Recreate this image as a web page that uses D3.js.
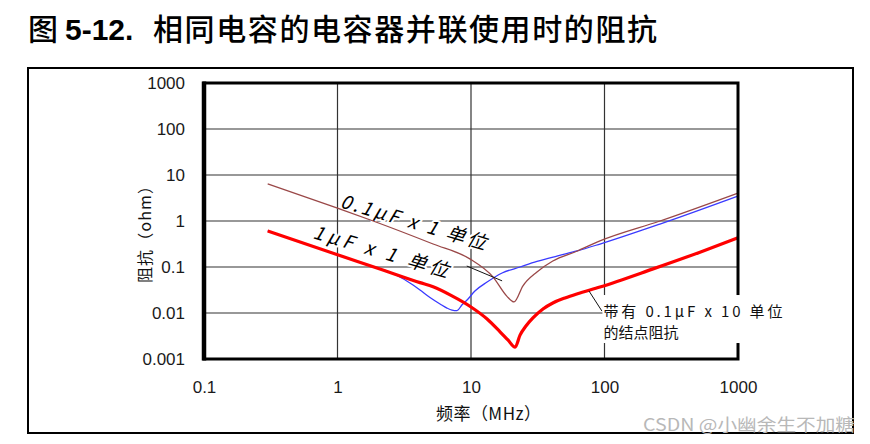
<!DOCTYPE html>
<html><head><meta charset="utf-8">
<script src="https://cdn.jsdelivr.net/npm/d3@7"></script>
<style>
body{margin:0;background:#fff;}
svg{display:block;}
</style></head>
<body>
<svg id="c" width="870" height="444"></svg>
<script>
// ---- data ----
const xTicks = [0.1, 1, 10, 100, 1000];
const xTickLabels = ["0.1", "1", "10", "100", "1000"];
const yTicks = [0.001, 0.01, 0.1, 1, 10, 100, 1000];
const yTickLabels = ["0.001", "0.01", "0.1", "1", "10", "100", "1000"];

// 1µF x 1 (red)
const redFreq = [0.3, 1.0, 2.0, 4.15, 5.2, 7.2, 10, 13.2, 16.5, 18.9, 21.4, 23.3, 25.8, 29.1, 34.6, 41, 50.6, 62, 92.5, 231, 519, 1000];
const redZ    = [0.61, 0.185, 0.094, 0.0457, 0.037, 0.0235, 0.0135, 0.0074, 0.0039, 0.0026, 0.0018, 0.0033, 0.0052, 0.0078, 0.0122, 0.0165, 0.0212, 0.026, 0.0367, 0.091, 0.21, 0.43];
// 0.1µF x 1 (brown)
const brownFreq = [0.3, 1.0, 1.85, 5.2, 9.8, 14.6, 18.6, 21, 24.5, 31.2, 41, 62, 92.5, 260, 1000];
const brownZ    = [6.4, 1.9, 1.0, 0.316, 0.15, 0.061, 0.023, 0.0174, 0.039, 0.078, 0.135, 0.22, 0.37, 1.0, 4.06];
// 0.1µF x 10 (blue)
const blueFreq = [0.3, 1.0, 2.0, 2.27, 2.74, 3.68, 4.15, 4.93, 5.86, 6.61, 7.21, 7.86, 8.57, 9.34, 10.7, 13.2, 17.1, 23.3, 31.2, 44, 62.2, 92.5, 260, 1000];
const blueZ    = [0.61, 0.185, 0.094, 0.084, 0.067, 0.0406, 0.0316, 0.0217, 0.0157, 0.0128, 0.0116, 0.0113, 0.0151, 0.0191, 0.030, 0.047, 0.074, 0.10, 0.132, 0.173, 0.223, 0.316, 0.86, 3.5];

const titleFig = "图";
const titleNum = "5-12.";
const titleText = "相同电容的电容器并联使用时的阻抗";
const xTitle = "频率（MHz）";
const yTitle = "阻抗（ohm）";
const label01 = "0.1µF x 1 单位";
const label1 = "1µF x 1 单位";
const noteLines = ["带有 0.1µF x 10 单位", "的结点阻抗"];
const watermark = "CSDN @小幽余生不加糖";

// annotation anchors in data units [freq, Z]
const label01At = [1.03, 2.01];
const label1At = [0.644, 0.427];
const leader1 = [[9.3, 0.105], [17.1, 0.05]];
const leader2 = [[76.6, 0.030], [95.7, 0.011]];
const noteAt = [96.5, 0.0105];

// ---- drawing ----
const svg = d3.select("#c");
const x = d3.scaleLog().domain([0.1, 1000]).range([204, 738]);
const y = d3.scaleLog().domain([0.001, 1000]).range([359, 83]);

// outer frame
svg.append("rect").attr("x", 28).attr("y", 68).attr("width", 825).attr("height", 365)
  .attr("fill", "none").attr("stroke", "#000").attr("stroke-width", 2);

// title
const t = svg.append("text").attr("y", 40).attr("font-size", 30).attr("fill", "#000");
t.append("tspan").attr("x", 28).attr("font-family", "'Noto Sans CJK SC'").attr("font-weight", 500).text(titleFig);
t.append("tspan").attr("x", 65).attr("font-family", "'Liberation Sans', Arial").attr("font-weight", "bold").text(titleNum);
svg.append("text").attr("x", 153).attr("y", 40).attr("font-size", 30)
  .attr("font-family", "'Noto Sans CJK SC'").attr("font-weight", 500)
  .attr("textLength", 504).attr("lengthAdjust", "spacing").text(titleText);

// gridlines
const g = svg.append("g");
g.selectAll("line.v").data(xTicks.slice(1, -1)).join("line")
  .attr("x1", d => x(d)).attr("x2", d => x(d)).attr("y1", y(1000)).attr("y2", y(0.001))
  .attr("stroke", "#333").attr("stroke-width", 1.2);
g.selectAll("line.h").data(yTicks.slice(1, -1)).join("line")
  .attr("y1", d => y(d)).attr("y2", d => y(d)).attr("x1", x(0.1)).attr("x2", x(1000))
  .attr("stroke", "#333").attr("stroke-width", 1.2);

// axes labels
const yAxis = d3.axisLeft(y).tickValues(yTicks).tickSize(0).tickPadding(19)
  .tickFormat((d, i) => yTickLabels[i]);
const ya = svg.append("g").attr("transform", `translate(${x(0.1)},0)`).call(yAxis);
ya.select(".domain").remove();
ya.selectAll("text").attr("font-size", 17).attr("font-family", "'Liberation Sans', Arial").attr("fill", "#1a1a1a");

const xAxis = d3.axisBottom(x).tickValues(xTicks).tickSize(0).tickPadding(22)
  .tickFormat((d, i) => xTickLabels[i]);
const xa = svg.append("g").attr("transform", `translate(0,${y(0.001)})`).call(xAxis);
xa.select(".domain").remove();
xa.selectAll("text").attr("font-size", 17).attr("font-family", "'Liberation Sans', Arial").attr("fill", "#1a1a1a");

// axis titles
svg.append("text").attr("x", 436).attr("y", 420).attr("font-size", 17)
  .attr("font-family", "'Noto Sans CJK SC'").attr("textLength", 105).attr("lengthAdjust", "spacing")
  .attr("fill", "#111").text(xTitle);
svg.append("text").attr("transform", "translate(151,283) rotate(-90)").attr("font-size", 16)
  .attr("font-family", "'Noto Sans CJK SC'").attr("textLength", 105).attr("lengthAdjust", "spacing")
  .attr("fill", "#111").text(yTitle);

// curve labels (white halo)
function curveLabel(txt, at, len) {
  svg.append("text")
    .attr("transform", `translate(${x(at[0])},${y(at[1])}) rotate(16.5)`)
    .attr("font-size", 19).attr("font-family", "'Noto Sans CJK JP'").attr("font-style", "italic")
    .attr("textLength", len).attr("lengthAdjust", "spacing")
    .attr("fill", "#000").attr("stroke", "#fff").attr("stroke-width", 4).attr("paint-order", "stroke")
    .attr("stroke-linejoin", "round")
    .text(txt);
}
curveLabel(label01, label01At, 151);
curveLabel(label1, label1At, 140);

// curves
const line = d3.line().x(d => x(d[0])).y(d => y(d[1])).curve(d3.curveMonotoneX);
const zip = (a, b) => a.map((v, i) => [v, b[i]]);
svg.append("path").datum(zip(blueFreq, blueZ)).attr("d", line)
  .attr("fill", "none").attr("stroke", "#3a3aff").attr("stroke-width", 1.3);
svg.append("path").datum(zip(brownFreq, brownZ)).attr("d", line)
  .attr("fill", "none").attr("stroke", "#9a4848").attr("stroke-width", 1.3);
svg.append("path").datum(zip(redFreq, redZ)).attr("d", line)
  .attr("fill", "none").attr("stroke", "#ff0000").attr("stroke-width", 3.2).attr("stroke-linejoin", "round");

// plot frame
svg.append("rect").attr("x", x(0.1)).attr("y", y(1000))
  .attr("width", x(1000) - x(0.1)).attr("height", y(0.001) - y(1000))
  .attr("fill", "none").attr("stroke", "#000").attr("stroke-width", 3);
svg.append("line").attr("x1", x(0.1)).attr("x2", x(0.1)).attr("y1", y(1000) - 1.5).attr("y2", y(0.001) + 1.5)
  .attr("stroke", "#000").attr("stroke-width", 4.5);

// leader lines
[leader1, leader2].forEach(L => {
  svg.append("line").attr("x1", x(L[0][0])).attr("y1", y(L[0][1]))
    .attr("x2", x(L[1][0])).attr("y2", y(L[1][1]))
    .attr("stroke", "#111").attr("stroke-width", 1);
});

// note box
const nx = x(noteAt[0]), ny = y(noteAt[1]);
svg.append("rect").attr("x", nx).attr("y", ny - 17).attr("width", 188).attr("height", 48).attr("fill", "#fff");
noteLines.forEach((s, i) => {
  svg.append("text").attr("x", nx + 1).attr("y", ny + 5 + i * 21).attr("font-size", 15)
    .attr("font-family", "'Noto Sans CJK JP'").attr("fill", "#111")
    .attr("textLength", i === 0 ? 179 : 75).attr("lengthAdjust", "spacing").text(s);
});

// watermark
svg.append("text").attr("x", 643).attr("y", 431).attr("font-size", 17)
  .attr("font-family", "'Noto Sans CJK SC'").attr("fill", "#b8b8b8")
  .attr("textLength", 212).attr("lengthAdjust", "spacingAndGlyphs")
  .text(watermark);
</script>
</body></html>
